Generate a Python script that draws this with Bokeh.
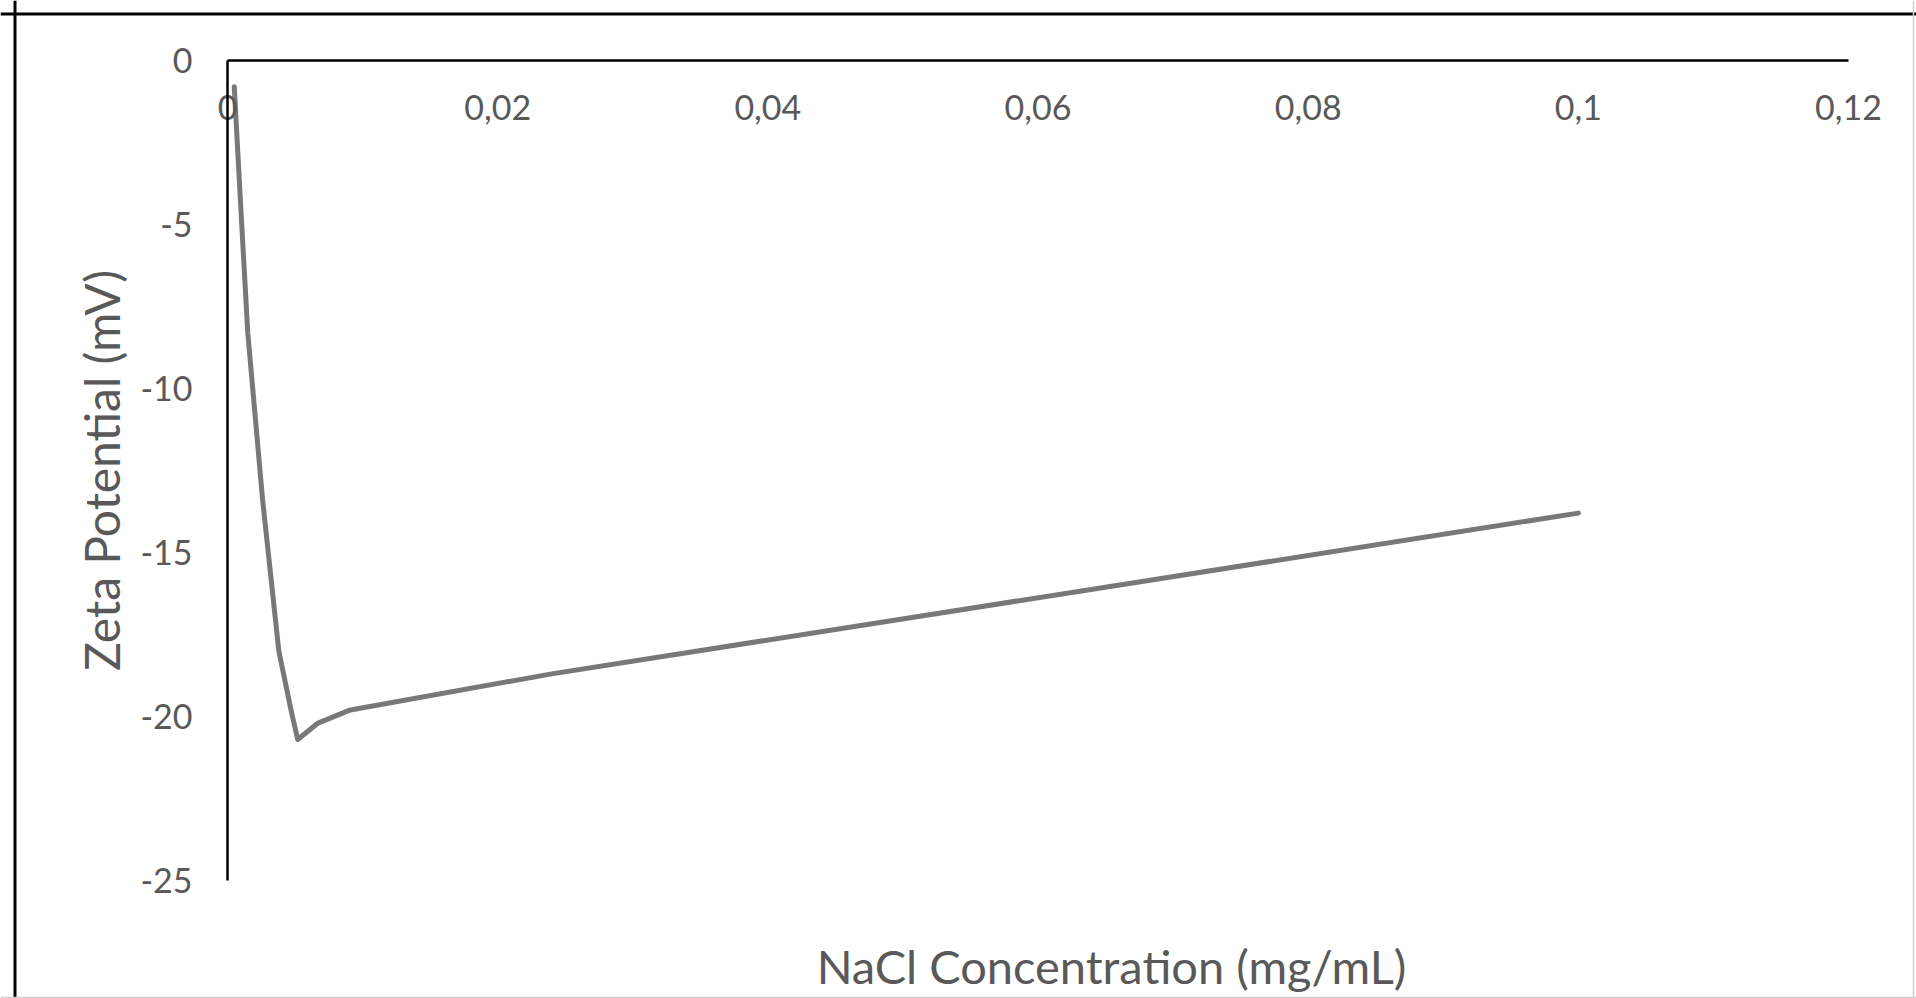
import math
from bokeh.plotting import figure
from bokeh.models import Range1d, FixedTicker, Label, Span
from bokeh.embed import file_html
from bokeh.resources import INLINE

# ---- data ----
nacl_mg_ml = [0.0005, 0.0010, 0.0015, 0.0026, 0.0038, 0.0047, 0.0052, 0.0067, 0.0091, 0.024, 0.1]
zeta_mv = [-0.8, -4.6, -8.3, -13.4, -18.0, -19.8, -20.7, -20.2, -19.8, -18.7, -13.8]

x_ticks = [0, 0.02, 0.04, 0.06, 0.08, 0.1, 0.12]
x_tick_labels = ["0", "0,02", "0,04", "0,06", "0,08", "0,1", "0,12"]
y_ticks = [0, -5, -10, -15, -20, -25]
y_tick_labels = ["0", "-5", "-10", "-15", "-20", "-25"]

x_title = "NaCl Concentration (mg/mL)"
y_title = "Zeta Potential (mV)"

# ---- layout constants (pixel mapping of the reference) ----
W, H = 1916, 998
X0_PX, X_PER_UNIT = 227.0, (1848.0 - 227.0) / 0.12
Y0_PX, Y_PER_UNIT = 60.0, (880.0 - 60.0) / 25.0

def px_to_x(px):
    return (px - X0_PX) / X_PER_UNIT

def px_to_y(py):
    return (Y0_PX - py) / Y_PER_UNIT

FONT = "Lato"
TEXT_COLOR = "#595959"

p = figure(width=W, height=H, output_backend="svg", toolbar_location=None,
           x_range=Range1d(px_to_x(0), px_to_x(W)),
           y_range=Range1d(px_to_y(H), px_to_y(0)),
           min_border=0, min_border_left=0, min_border_right=0,
           min_border_top=0, min_border_bottom=0)
p.outline_line_color = None
p.background_fill_color = "white"
p.border_fill_color = "white"
p.xgrid.visible = False
p.ygrid.visible = False

# axes crossing at the origin
xa = p.xaxis[0]
xa.fixed_location = 0
xa.bounds = (0, 0.12)
xa.ticker = FixedTicker(ticks=x_ticks)
xa.major_label_overrides = {t: l for t, l in zip(x_ticks, x_tick_labels)}
xa.major_tick_line_color = None
xa.minor_tick_line_color = None
xa.axis_line_color = "black"
xa.axis_line_width = 2.5
xa.major_label_standoff = 28
xa.major_label_text_font = FONT
xa.major_label_text_font_size = "34px"
xa.major_label_text_color = TEXT_COLOR

ya = p.yaxis[0]
ya.fixed_location = 0
ya.bounds = (-25, 0)
ya.ticker = FixedTicker(ticks=y_ticks)
ya.major_label_overrides = {t: l for t, l in zip(y_ticks, y_tick_labels)}
ya.major_tick_line_color = None
ya.minor_tick_line_color = None
ya.axis_line_color = "black"
ya.axis_line_width = 2.5
ya.major_label_standoff = 29
ya.major_label_text_font = FONT
ya.major_label_text_font_size = "34px"
ya.major_label_text_color = TEXT_COLOR

# data line
p.line(nacl_mg_ml, zeta_mv, line_color="#787878", line_width=5,
       line_join="round", line_cap="round")

# axis titles
p.add_layout(Label(x=px_to_x(1111), y=px_to_y(965), text=x_title,
                   text_align="center", text_baseline="middle",
                   text_font=FONT, text_font_size="47px", text_color=TEXT_COLOR))
p.add_layout(Label(x=px_to_x(101), y=px_to_y(470), text=y_title, angle=math.pi / 2,
                   text_align="center", text_baseline="middle",
                   text_font=FONT, text_font_size="48px", text_color=TEXT_COLOR))

# chart border (black left/top, faint right/bottom)
p.add_layout(Span(location=px_to_x(14.5), dimension="height", line_color="black", line_width=3))
p.add_layout(Span(location=px_to_y(13.5), dimension="width", line_color="black", line_width=3))
p.add_layout(Span(location=px_to_x(1913), dimension="height", line_color="#d0d0d0", line_width=1.5))
p.add_layout(Span(location=px_to_y(997), dimension="width", line_color="#d0d0d0", line_width=1.5))

open("out.html", "w").write(file_html(p, INLINE))
